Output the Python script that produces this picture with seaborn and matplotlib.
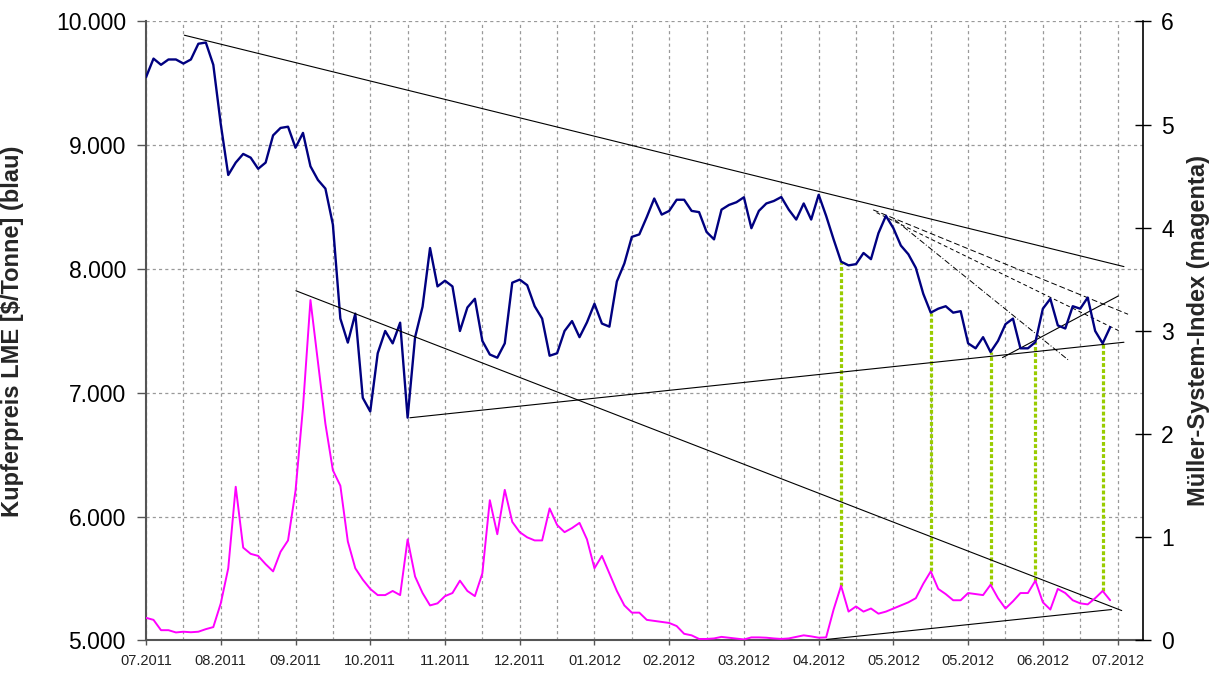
import numpy as np
import pandas as pd
import matplotlib
matplotlib.use("Agg")
import matplotlib.pyplot as plt
from matplotlib.ticker import FixedLocator, MultipleLocator, FuncFormatter
import seaborn as sns

# trading days, sampled every 2nd day
days = np.arange(0, 260, 2)

# LME copper price [$/t] (blue)
kupfer = [
    9550, 9700, 9650, 9693, 9693, 9660, 9693, 9820, 9830, 9650,
    9170, 8760, 8860, 8930, 8900, 8810, 8860, 9080, 9140, 9150,
    8980, 9100, 8830, 8720, 8650, 8360, 7600, 7406, 7640, 6960,
    6850, 7320, 7500, 7400, 7567, 6800, 7450, 7696, 8170, 7860,
    7906, 7860, 7500, 7690, 7760, 7420, 7310, 7284, 7400, 7890,
    7915, 7870, 7700, 7600, 7300, 7320, 7500, 7580, 7450, 7570,
    7720, 7560, 7535, 7900, 8045, 8260, 8280, 8420, 8570, 8440,
    8470, 8560, 8560, 8470, 8460, 8300, 8240, 8480, 8518, 8540,
    8580, 8330, 8470, 8530, 8550, 8582, 8480, 8400, 8530, 8400,
    8600, 8430, 8240, 8060, 8030, 8040, 8130, 8080, 8290, 8430,
    8330, 8190, 8120, 8010, 7800, 7648, 7680, 7700, 7648, 7660,
    7400, 7360, 7450, 7330, 7420, 7555, 7600, 7360, 7360, 7410,
    7680, 7760, 7545, 7520, 7700, 7680, 7770, 7500, 7400, 7530,
]

# Mueller-System-Index (magenta)
msi = [
    0.22, 0.20, 0.10, 0.10, 0.078, 0.085, 0.08, 0.085, 0.11, 0.13,
    0.36, 0.70, 1.49, 0.90, 0.84, 0.82, 0.74, 0.67, 0.86, 0.97,
    1.45, 2.26, 3.30, 2.70, 2.10, 1.65, 1.50, 0.96, 0.70, 0.59,
    0.50, 0.44, 0.44, 0.48, 0.44, 0.98, 0.62, 0.46, 0.34, 0.36,
    0.43, 0.46, 0.58, 0.48, 0.43, 0.65, 1.36, 1.03, 1.46, 1.15,
    1.05, 1.00, 0.97, 0.97, 1.28, 1.12, 1.05, 1.09, 1.14, 0.98,
    0.70, 0.82, 0.65, 0.48, 0.34, 0.27, 0.27, 0.20, 0.19, 0.18,
    0.17, 0.14, 0.065, 0.05, 0.015, 0.015, 0.02, 0.035, 0.027, 0.02,
    0.01, 0.03, 0.03, 0.027, 0.02, 0.015, 0.02, 0.035, 0.05, 0.04,
    0.027, 0.03, 0.30, 0.53, 0.28, 0.33, 0.28, 0.31, 0.26, 0.28,
    0.31, 0.34, 0.37, 0.41, 0.55, 0.67, 0.50, 0.45, 0.39, 0.39,
    0.46, 0.45, 0.44, 0.54, 0.41, 0.31, 0.38, 0.46, 0.46, 0.58,
    0.37, 0.30, 0.50, 0.46, 0.39, 0.36, 0.35, 0.41, 0.48, 0.39,
]

tick_days = list(range(0, 261, 20))
tick_labels = ['07.2011', '08.2011', '09.2011', '10.2011', '11.2011', '12.2011',
               '01.2012', '02.2012', '03.2012', '04.2012', '05.2012', '05.2012',
               '06.2012', '07.2012']

# index peaks marked with green dotted lines (trading day)
signal_days = [186, 210, 226, 238, 256]

# trend lines (day0, value0, day1, value1)
price_lines = [(10.25, 9889, 261.7, 8020), (70.6, 6799, 261.7, 7409),
               (229.2, 7285, 260.2, 7783)]
fan_lines = [(194.6, 8478, 262.8, 7635), (195.5, 8456, 260.8, 7495),
             (200.4, 8398, 246.8, 7266)]
fan_styles = [(0, (6, 3)), (0, (4, 3)), (0, (6, 2, 1, 2))]
index_lines = [(40.1, 3.39, 261.1, 0.29), (182.1, 0.01, 258.4, 0.30)]

df = pd.DataFrame({'tag': days, 'kupfer': kupfer, 'msi': msi})

sns.set_theme(style="white")
plt.rcParams['font.family'] = ['Liberation Sans', 'DejaVu Sans']

fig = plt.figure(figsize=(12.17, 6.73), dpi=100)
ax = fig.add_axes([0.12, 0.0483, 0.8192, 0.9198])
ax2 = ax.twinx()

p_lo, p_hi = 5000, 10000
i_lo, i_hi = 0, 6

# trend lines
for d0, v0, d1, v1 in price_lines:
    ax.plot([d0, d1], [v0, v1], color='black', lw=0.8, zorder=3)
for (d0, v0, d1, v1), ls in zip(fan_lines, fan_styles):
    ax.plot([d0, d1], [v0, v1], color='black', lw=0.7, ls=ls, zorder=3)
for d0, v0, d1, v1 in index_lines:
    ax2.plot([d0, d1], [v0, v1], color='black', lw=0.8, zorder=3)

# green signal lines from price down to index peak
for d in signal_days:
    i = list(days).index(d)
    low = p_lo + msi[i] * (p_hi - p_lo) / (i_hi - i_lo)
    ax.plot([d, d], [low, kupfer[i]], color='#99CC00', lw=2.3,
            ls=(0, (1.2, 0.7)), zorder=2)

sns.lineplot(data=df, x='tag', y='kupfer', ax=ax, color='#000080', lw=1.7, zorder=4)
sns.lineplot(data=df, x='tag', y='msi', ax=ax2, color='#FF00FF', lw=1.4, zorder=4)

ax.set_xlim(0, 266.8)
ax.set_ylim(p_lo, p_hi)
ax2.set_ylim(i_lo, i_hi)

ax.xaxis.set_major_locator(FixedLocator(tick_days))
ax.set_xticklabels(tick_labels)
ax.xaxis.set_minor_locator(MultipleLocator(10))
ax.yaxis.set_major_locator(MultipleLocator(1000))
ax.yaxis.set_major_formatter(FuncFormatter(lambda v, p: f"{int(v):,}".replace(',', '.')))
ax2.yaxis.set_major_locator(MultipleLocator(1))

grid_kw = dict(color='#999999', lw=0.9, ls=(0, (2.5, 2.5)))
ax.grid(True, which='both', axis='x', **grid_kw)
ax.grid(True, which='major', axis='y', **grid_kw)
ax2.grid(False)
ax.set_axisbelow(True)

ax.tick_params(axis='y', direction='out', length=6.5, width=1, pad=8,
               labelsize=16.5, colors='#555555', labelcolor='black', left=True)
ax.tick_params(axis='x', which='major', direction='out', length=3.6, width=1,
               pad=6, labelsize=10.5, colors='#555555', labelcolor='#222222', bottom=True)
ax.tick_params(axis='x', which='minor', length=0)
ax2.tick_params(axis='y', direction='inout', length=12, width=1, pad=7,
                labelsize=16.5, colors='black', right=True)

for s in ['top', 'right']:
    ax.spines[s].set_visible(False)
for s in ['left', 'bottom']:
    ax.spines[s].set_color('#555555')
    ax.spines[s].set_linewidth(1.5)
for s in ['top', 'left', 'bottom']:
    ax2.spines[s].set_visible(False)
ax2.spines['right'].set_color('black')
ax2.spines['right'].set_linewidth(1.2)

ax.set_xlabel('')
ax.set_ylabel('Kupferpreis LME [$/Tonne] (blau)', fontsize=17, fontweight='bold')
ax.yaxis.set_label_coords(-0.1224, 0.5)
ax2.set_ylabel('Müller-System-Index (magenta)', fontsize=17, fontweight='bold',
               rotation=90, va='center')
ax2.yaxis.set_label_coords(1.056, 0.5)

fig.savefig('out.png', dpi=100)
